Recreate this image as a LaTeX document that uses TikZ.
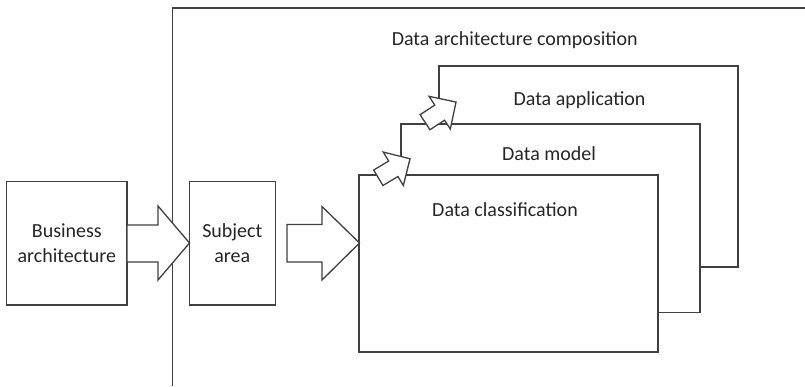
\documentclass[tikz,border=0pt]{standalone}
\usepackage{fontspec}
\setmainfont{Carlito}
\definecolor{ln}{HTML}{404040}
\definecolor{tx}{HTML}{262626}
\begin{document}
\begin{tikzpicture}[x=1pt,y=-1pt,
  box/.style={draw=ln, line width=1.3pt, fill=white, inner sep=0pt, text=tx,
    font=\fontsize{20}{24.5}\selectfont, align=center},
  lbl/.style={inner sep=0pt, text=tx, font=\fontsize{20}{24.5}\selectfont},
  blk/.style={draw=ln, line width=1.3pt, fill=white, line join=miter}]
\useasboundingbox (0,0) rectangle (805,386);
% outer frame (open to the right and bottom)
\coordinate (fbot) at (172.7,386);
\coordinate (fcorner) at (172.7,8);
\coordinate (fright) at (806,8);
\draw[ln, line width=1.3pt] (fbot) -- (fcorner) -- (fright);
% stacked data boxes
\node[box, minimum width=299pt, minimum height=201pt] (app) at (588.5,166.5) {};
\node[box, minimum width=299pt, minimum height=188.5pt] (mod) at (550.5,218.25) {};
\node[box, minimum width=299pt, minimum height=177pt] (cls) at (508.5,263.6) {};
% left boxes
\node[box, minimum width=120.3pt, minimum height=123.3pt] (ba) at (66.85,243.35) {Business\\architecture};
\node[box, minimum width=86pt, minimum height=123.3pt] (sa) at (232.3,243.35) {Subject\\area};
% titles
\node[lbl, anchor=base] (tcomp) at (514.7,45) {Data architecture composition};
\node[lbl, anchor=base] (tapp) at (579.5,105) {Data application};
\node[lbl, anchor=base] (tmod) at (549,160) {Data model};
\node[lbl, anchor=base] (tcls) at (505,216) {Data classification};
% horizontal block arrows
\draw[blk] (127,225) -- (158,225) -- (158,206) -- (189.5,243) -- (158,280) -- (158,262) -- (127,262) -- cycle;
\draw[blk] (287,224.5) -- (322,224.5) -- (322,206.5) -- (359.5,243) -- (322,280) -- (322,262) -- (287,262) -- cycle;
% diagonal block arrows
\draw[blk, shift={(378.3,177.8)}, rotate=31]
  (0,-9) -- (17.5,-9) -- (17.5,-19.5) -- (37,0) -- (17.5,19.5) -- (17.5,9) -- (0,9) -- cycle;
\draw[blk, shift={(425,122.2)}, rotate=33]
  (0,-9) -- (17.5,-9) -- (17.5,-19.5) -- (37,0) -- (17.5,19.5) -- (17.5,9) -- (0,9) -- cycle;
\end{tikzpicture}
\end{document}
